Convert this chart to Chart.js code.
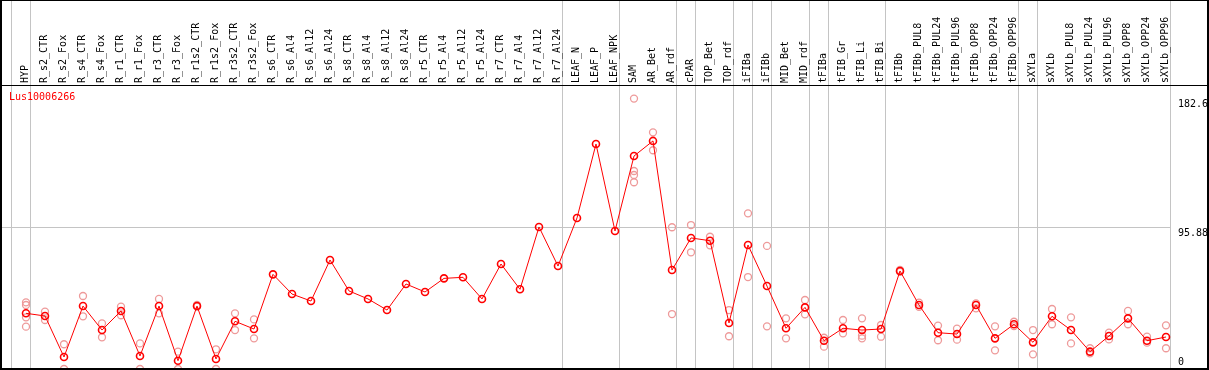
<!DOCTYPE html>
<html>
<head>
<meta charset="utf-8">
<script src="https://cdn.jsdelivr.net/npm/chart.js@4/dist/chart.umd.min.js"></script>
<style>
  html, body { margin: 0; padding: 0; background: #fff; }
  #chart { display: block; }
</style>
</head>
<body>
<canvas id="chart" width="1209" height="370"></canvas>
<script>
const geneId = 'Lus10006266';

const categories = [
    'HYP', 'R_s2_CTR', 'R_s2_Fox', 'R_s4_CTR', 'R_s4_Fox', 'R_r1_CTR', 'R_r1_Fox', 'R_r3_CTR', 'R_r3_Fox',
    'R_r1s2_CTR', 'R_r1s2_Fox', 'R_r3s2_CTR', 'R_r3s2_Fox', 'R_s6_CTR', 'R_s6_Al4', 'R_s6_Al12', 'R_s6_Al24',
    'R_s8_CTR', 'R_s8_Al4', 'R_s8_Al12', 'R_s8_Al24', 'R_r5_CTR', 'R_r5_Al4', 'R_r5_Al12', 'R_r5_Al24',
    'R_r7_CTR', 'R_r7_Al4', 'R_r7_Al12', 'R_r7_Al24', 'LEAF_N', 'LEAF_P', 'LEAF_NPK', 'SAM', 'AR_Bet', 'AR_rdf',
    'cPAR', 'TOP_Bet', 'TOP_rdf', 'iFIBa', 'iFIBb', 'MID_Bet', 'MID_rdf', 'tFIBa', 'tFIB_Gr', 'tFIB_Li', 'tFIB_Bi',
    'tFIBb', 'tFIBb_PUL8', 'tFIBb_PUL24', 'tFIBb_PUL96', 'tFIBb_OPP8', 'tFIBb_OPP24', 'tFIBb_OPP96',
    'sXYLa', 'sXYLb', 'sXYLb_PUL8', 'sXYLb_PUL24', 'sXYLb_PUL96', 'sXYLb_OPP8', 'sXYLb_OPP24', 'sXYLb_OPP96'
];

// mean expression per sample
const meanValues = [
    37.6, 35.8, 8.1, 42.5, 26.3, 39.2, 8.8, 42.5, 5.6,
    42.5, 6.8, 32.2, 27.0, 63.9, 50.6, 45.9, 73.6,
    52.7, 47.3, 39.8, 57.4, 52.0, 61.2, 61.9, 47.3,
    70.9, 53.8, 95.9, 69.5, 102.0, 151.9, 93.2, 143.8, 154.0, 66.8,
    88.5, 86.6, 31.1, 83.7, 56.0, 27.5, 41.6, 19.1, 27.5, 26.3, 27.0,
    66.2, 43.2, 24.5, 23.6, 43.2, 20.7, 30.2,
    18.0, 35.6, 26.3, 11.7, 22.3, 34.2, 19.1, 21.6
];

// individual replicates (empty where only the mean is shown)
const replicateValues = [
    [45.0, 43.2, 34.9, 28.6], [38.7, 33.1], [16.7, 0], [49.3, 35.6], [30.8, 21.4], [42.1, 36.3], [17.3, 0], [47.3, 37.6], [11.7, 0],
    [43.2, 42.1], [13.3, 0], [37.6, 26.3], [33.5, 20.7], [], [], [], [],
    [], [], [], [], [], [], [], [],
    [], [], [], [], [], [], [], [182.6, 133.7, 131.0, 126.1], [159.8, 147.7], [95.7, 37.1],
    [97.2, 78.8], [89.3, 83.5], [39.8, 22.1], [105.1, 62.1], [83.1, 28.8], [34.2, 20.7], [46.6, 36.9], [21.1, 15.1], [33.1, 24.1], [34.2, 22.5, 20.7], [29.7, 21.8],
    [66.9, 65.6], [44.8, 42.0], [29.3, 19.4], [27.2, 19.8], [44.3, 41.0], [28.8, 12.6], [31.9, 29.0],
    [26.3, 9.9], [40.5, 30.2], [34.9, 17.3], [14.0, 10.6], [24.5, 20.0], [39.2, 30.2], [21.8, 17.8], [29.5, 14.0]
];

const yTickValues = [0, 95.88, 182.6];
const yMax = 191.76;

// last sample index of each group (-1 = before the first sample)
const groupBreaks = [-1, 0, 28, 31, 34, 35, 37, 38, 39, 41, 42, 45, 52, 53, 60];

const MONO = '10px "DejaVu Sans Mono", "Liberation Mono", monospace';

const framePlugin = {
    id: 'frame',
    beforeDatasetsDraw(chart) {
        const ctx = chart.ctx;
        const xs = chart.scales.x;
        const ys = chart.scales.y;
        ctx.save();

        // group separators
        ctx.strokeStyle = '#c4c4c4';
        ctx.lineWidth = 1;
        groupBreaks.forEach(b => {
            const x = Math.floor(xs.getPixelForValue(b) + 4.5) + 0.5;
            ctx.beginPath();
            ctx.moveTo(x, 1);
            ctx.lineTo(x, 368);
            ctx.stroke();
        });

        // mid line
        const yMid = Math.round(ys.getPixelForValue(yTickValues[1])) + 0.5;
        const xRight = Math.floor(xs.getPixelForValue(groupBreaks[groupBreaks.length - 1]) + 4.5);
        ctx.beginPath();
        ctx.moveTo(2, yMid);
        ctx.lineTo(xRight, yMid);
        ctx.stroke();
        ctx.restore();
    },
    afterDraw(chart) {
        const ctx = chart.ctx;
        const xs = chart.scales.x;
        const ys = chart.scales.y;
        ctx.save();

        // black frame
        ctx.fillStyle = '#000';
        ctx.fillRect(0, 0, 1209, 1);
        ctx.fillRect(0, 0, 2, 370);
        ctx.fillRect(1207, 0, 2, 370);
        ctx.fillRect(0, 368, 1209, 2);
        ctx.fillRect(0, 85, 1209, 1);

        // sample names, reading upwards from the header line
        ctx.font = MONO;
        ctx.fillStyle = '#000';
        ctx.textAlign = 'left';
        ctx.textBaseline = 'middle';
        categories.forEach((name, i) => {
            const x = xs.getPixelForValue(i) - 1;
            ctx.save();
            ctx.translate(x, 83);
            ctx.rotate(-Math.PI / 2);
            ctx.fillText(name, 0, 0);
            ctx.restore();
        });

        // value labels on the right
        yTickValues.forEach(v => {
            const y = ys.getPixelForValue(v);
            ctx.fillText(String(v), 1178, v === 0 ? y - 7 : y + 6);
        });

        // gene id
        ctx.fillStyle = '#ff0000';
        ctx.fillText(geneId, 9, 97);
        ctx.restore();
    }
};

function buildReplicatePoints() {
    const pts = [];
    replicateValues.forEach((vals, i) => {
        vals.forEach(v => pts.push({ x: categories[i], y: v }));
    });
    return pts;
}

function createChart() {
    const ctx = document.getElementById('chart').getContext('2d');
    new Chart(ctx, {
        type: 'line',
        data: {
            labels: categories,
            datasets: [
                {
                    label: geneId,
                    data: meanValues,
                    borderColor: '#ff0000',
                    borderWidth: 1,
                    pointStyle: 'circle',
                    pointRadius: 3.5,
                    pointBorderWidth: 1.6,
                    pointBorderColor: '#ff0000',
                    pointBackgroundColor: 'rgba(0,0,0,0)',
                    tension: 0,
                    clip: false,
                    order: 0
                },
                {
                    label: 'replicates',
                    data: buildReplicatePoints(),
                    showLine: false,
                    pointStyle: 'circle',
                    pointRadius: 3.5,
                    pointBorderWidth: 1.3,
                    pointBorderColor: '#ee9a9a',
                    pointBackgroundColor: 'rgba(0,0,0,0)',
                    clip: false,
                    order: 1
                }
            ]
        },
        options: {
            responsive: false,
            animation: false,
            layout: { autoPadding: false, padding: { left: 26, right: 43, top: 85, bottom: 1 } },
            plugins: {
                legend: { display: false },
                tooltip: { enabled: false }
            },
            scales: {
                x: { type: 'category', offset: false, display: false },
                y: { min: 0, max: yMax, display: false }
            }
        },
        plugins: [framePlugin]
    });
}

createChart();
</script>
</body>
</html>
